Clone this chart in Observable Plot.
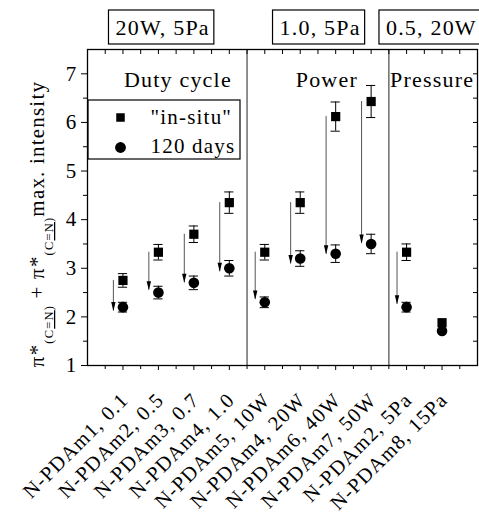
<!DOCTYPE html>
<html><head><meta charset="utf-8">
<script src="https://cdn.jsdelivr.net/npm/d3@7"></script>
<script src="https://cdn.jsdelivr.net/npm/@observablehq/plot@0.6"></script>
<style>body{margin:0;background:#fff}</style>
</head><body><div id="chart"></div>
<script>
// ---- data ----
const samples = ["N-PDAm1, 0.1","N-PDAm2, 0.5","N-PDAm3, 0.7","N-PDAm4, 1.0","N-PDAm5, 10W","N-PDAm4, 20W","N-PDAm6, 40W","N-PDAm7, 50W","N-PDAm2, 5Pa","N-PDAm8, 15Pa"];
const positions = [1,2,3,4,5,6,7,8,9,10];
const inSitu     = [2.75, 3.33, 3.70, 4.35, 3.33, 4.35, 6.12, 6.43, 3.33, 1.88];
const inSituErr  = [0.14, 0.16, 0.17, 0.22, 0.16, 0.22, 0.30, 0.33, 0.17, 0];
const days120    = [2.20, 2.50, 2.70, 3.00, 2.30, 3.20, 3.30, 3.50, 2.20, 1.71];
const days120Err = [0.10, 0.13, 0.14, 0.16, 0.11, 0.16, 0.18, 0.20, 0.10, 0];
const arrowEnd   = [2.12, 2.55, 2.70, 2.93, 2.36, 3.09, 3.29, 3.51, 2.26, null];
const groupNames = ["Duty cycle", "Power", "Pressure"];
const groupNameX = [2.55, 6.75, 9.72];
const conditions = ["20W, 5Pa", "1.0, 5Pa", "0.5, 20W"];
const conditionX = [2.12, 6.56, 9.7];
const separators = [4.5, 8.5];
const yTicks = [1,2,3,4,5,6,7];
const yMinor = [1.5,2.5,3.5,4.5,5.5,6.5];
const xMinor = [0.5,1.5,2.5,3.5,4.5,5.5,6.5,7.5,8.5,9.5,10.5];
const seriesNames = ['"in-situ"', "120 days"];

const sq = positions.map((x,i) => ({x, v: inSitu[i], e: inSituErr[i]}));
const ci = positions.map((x,i) => ({x, v: days120[i], e: days120Err[i]}));
const arrows = positions.map((x,i) => ({x, top: inSitu[i], end: arrowEnd[i]})).filter(d => d.end != null);
const sqE = sq.filter(d => d.e > 0), ciE = ci.filter(d => d.e > 0);
const off = 0.27, cap = 0.13;
const arrowHead = {draw(ctx){ ctx.moveTo(0,0); ctx.lineTo(-2.2,-9); ctx.lineTo(2.2,-9); ctx.closePath(); }};
const blank = () => "";

const plot = Plot.plot({
  width: 479, height: 515,
  marginLeft: 87, marginRight: 2, marginTop: 49, marginBottom: 150,
  x: {domain: [0, 11], axis: null},
  y: {domain: [1, 7.5], axis: null},
  style: {fontFamily: "Liberation Serif", fontSize: "20px", letterSpacing: "0.06em", color: "black", background: "white", overflow: "visible"},
  marks: [
    Plot.ruleX(separators, {stroke: "#555", strokeWidth: 1.3}),
    Plot.frame({stroke: "black", strokeWidth: 1.3}),
    Plot.axisY({ticks: yTicks, tickSize: 6, tickPadding: 4, fontSize: 21, label: null, tickFormat: d3.format("d")}),
    Plot.axisY({ticks: yMinor, tickSize: 4, tickFormat: blank, label: null}),
    Plot.axisY({anchor: "right", ticks: yTicks.concat(yMinor), tickSize: 5, dx: -5, tickFormat: blank, label: null}),
    Plot.axisX({anchor: "top", ticks: positions.concat(xMinor), tickSize: 4, dy: 4, tickFormat: blank, label: null}),
    Plot.axisX({ticks: xMinor, tickSize: 4, tickFormat: blank, label: null}),
    Plot.axisX({ticks: positions, tickSize: 5, tickFormat: blank, label: null}),
    Plot.axisX({ticks: positions, tickSize: 0, tickRotate: -45, tickPadding: 26, dy: 5, dx: 2, fontSize: 20.5, tickFormat: d => samples[d-1], label: null}),
    // arrows
    Plot.ruleX(arrows, {x: d => d.x - off, y1: "top", y2: "end", stroke: "#555", strokeWidth: 1}),
    Plot.dot(arrows, {x: d => d.x - off, y: "end", symbol: arrowHead, fill: "black", stroke: "none", r: 5}),
    // error bars
    Plot.ruleX(sqE, {x: "x", y1: d => d.v - d.e, y2: d => d.v + d.e, stroke: "black", strokeWidth: 1}),
    Plot.ruleY(sqE, {y: d => d.v + d.e, x1: d => d.x - cap, x2: d => d.x + cap, stroke: "black", strokeWidth: 1}),
    Plot.ruleY(sqE, {y: d => d.v - d.e, x1: d => d.x - cap, x2: d => d.x + cap, stroke: "black", strokeWidth: 1}),
    Plot.ruleX(ciE, {x: "x", y1: d => d.v - d.e, y2: d => d.v + d.e, stroke: "black", strokeWidth: 1}),
    Plot.ruleY(ciE, {y: d => d.v + d.e, x1: d => d.x - cap, x2: d => d.x + cap, stroke: "black", strokeWidth: 1}),
    Plot.ruleY(ciE, {y: d => d.v - d.e, x1: d => d.x - cap, x2: d => d.x + cap, stroke: "black", strokeWidth: 1}),
    // symbols
    Plot.dot(sq, {x: "x", y: "v", symbol: "square", r: 5.2, fill: "black", stroke: "none"}),
    Plot.dot(ci, {x: "x", y: "v", symbol: "circle", r: 5.3, fill: "black", stroke: "none"}),
    // group annotations
    Plot.text(groupNames, {x: (d,i) => groupNameX[i], y: 6.88, text: d => d, fontSize: 22}),
    Plot.text(conditions, {x: (d,i) => conditionX[i], frameAnchor: "top", lineAnchor: "middle", dy: -22, text: d => d, fontSize: 22}),
    // legend
    Plot.dot([seriesNames[0]], {frameAnchor: "top-left", dx: 33, dy: 68, symbol: "square", r: 4.8, fill: "black"}),
    Plot.dot([seriesNames[1]], {frameAnchor: "top-left", dx: 33, dy: 98, symbol: "circle", r: 5.4, fill: "black"}),
    Plot.text([seriesNames[0]], {frameAnchor: "top-left", lineAnchor: "middle", textAnchor: "start", dx: 63, dy: 68, text: d => d, fontSize: 21}),
    Plot.text([seriesNames[1]], {frameAnchor: "top-left", lineAnchor: "middle", textAnchor: "start", dx: 63, dy: 97, text: d => d, fontSize: 21})
  ]
});
document.getElementById("chart").append(plot);

const svg = d3.select(plot);
// legend box
svg.append("rect").attr("x", 88).attr("y", 100).attr("width", 152).attr("height", 59)
  .attr("fill", "none").attr("stroke", "black").attr("stroke-width", 1.2);
// boxes around condition labels
svg.selectAll("text").filter(function(){ return conditions.includes(this.textContent); })
  .each(function(){
    const b = this.getBBox();
    const m = this.getCTM();
    const x = b.x + m.e;
    svg.append("rect").attr("x", x - 7).attr("y", 10).attr("width", b.width + 11).attr("height", 34)
      .attr("fill", "none").attr("stroke", "black").attr("stroke-width", 1.2);
  });
// y-axis title with subscripts
const sub = '<tspan font-size="12.5" dy="9">(C<tspan text-decoration="underline">=N</tspan>)</tspan>';
svg.append("text")
  .attr("transform", "translate(44,224) rotate(-90)")
  .attr("text-anchor", "middle").attr("font-size", 21).attr("fill", "black")
  .html('π*' + sub + '<tspan dy="-9"> + π*</tspan>' + sub + '<tspan dy="-9">max. intensity</tspan>');
</script></body></html>
